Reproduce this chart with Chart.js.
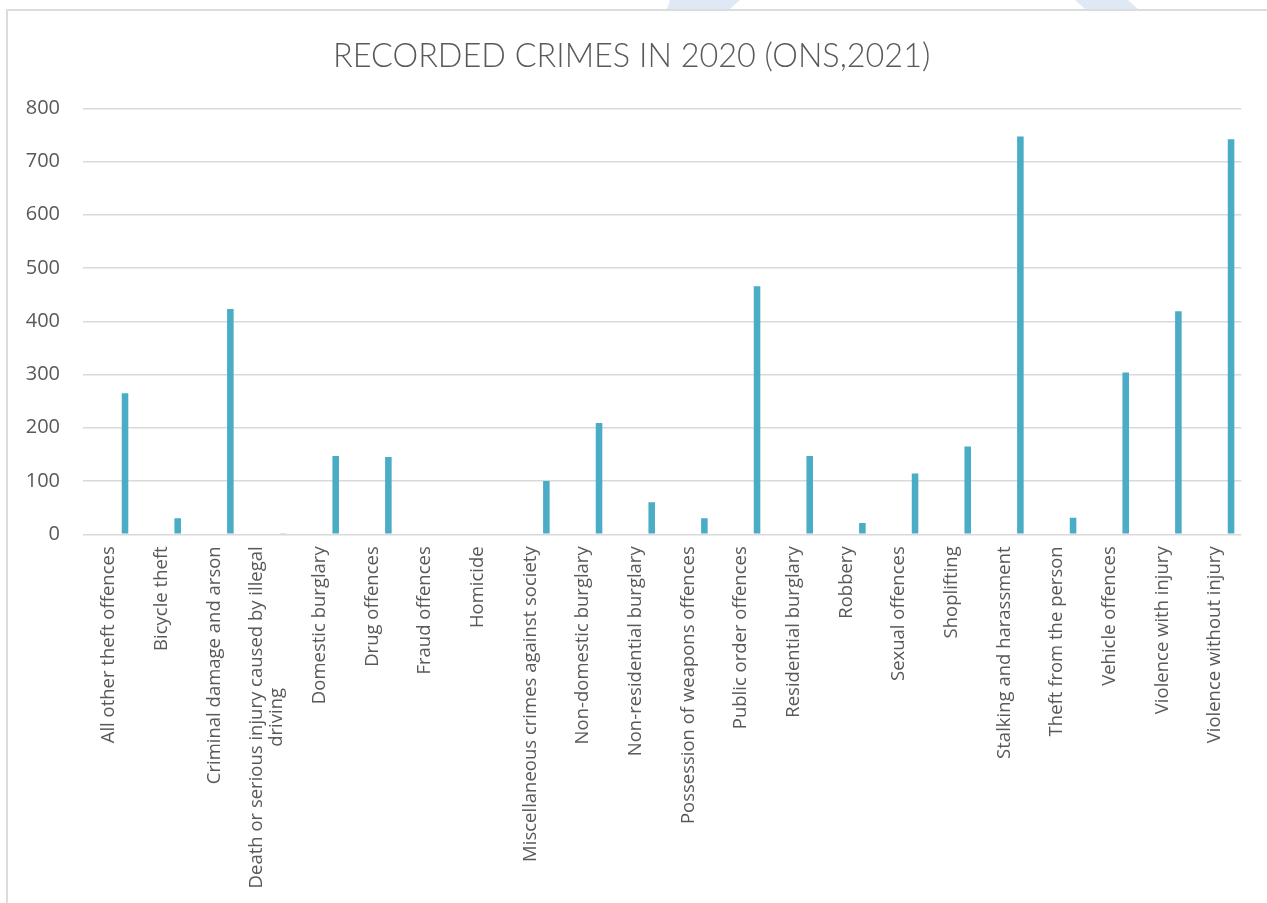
<!DOCTYPE html>
<html>
<head>
<meta charset="utf-8">
<title>Recorded crimes in 2020</title>
<script src="https://cdn.jsdelivr.net/npm/chart.js@4.4.1/dist/chart.umd.min.js"></script>
<style>
  html, body { margin: 0; padding: 0; background: #fff; }
  body { width: 1267px; height: 903px; position: relative; overflow: hidden; }
  .stripe { position: absolute; top: 0; height: 9px; background: #dfe9f6; }
  #stripe-a { left: 667px; width: 73px; clip-path: polygon(3px 0, 73px 0, 63px 9px, 0 9px); }
  #stripe-b { left: 1075px; width: 63px; clip-path: polygon(0 0, 53px 0, 63px 9px, 10px 9px); }
  .frame {
    position: absolute; left: 6px; top: 9px; right: -4px; bottom: -4px;
    border-left: 2px solid #dcdcdc; border-top: 2px solid #dcdcdc;
  }
  #chart { position: absolute; left: 0; top: 0; }
</style>
</head>
<body>
<div class="stripe" id="stripe-a"></div>
<div class="stripe" id="stripe-b"></div>
<div class="frame"></div>
<canvas id="chart" width="1267" height="903"></canvas>

<script>
// ======= Data =======
const categories = [
  "All other theft offences",
  "Bicycle theft",
  "Criminal damage and arson",
  ["Death or serious injury caused by illegal", "driving"],
  "Domestic burglary",
  "Drug offences",
  "Fraud offences",
  "Homicide",
  "Miscellaneous crimes against society",
  "Non-domestic burglary",
  "Non-residential burglary",
  "Possession of weapons offences",
  "Public order offences",
  "Residential burglary",
  "Robbery",
  "Sexual offences",
  "Shoplifting",
  "Stalking and harassment",
  "Theft from the person",
  "Vehicle offences",
  "Violence with injury",
  "Violence without injury"
];
const recorded = [265, 30, 423, 1, 147, 145, 0, 0, 100, 209, 60, 30, 466, 147, 21, 114, 165, 747, 31, 304, 419, 742];

const yMin = 0;
const yMax = 800;
const yStep = 100;

const TITLE = "RECORDED CRIMES IN 2020 (ONS,2021)";
const TEXT_COLOR = "#595959";
const BAR_COLOR = "#4bacc6";
const GRID_COLOR = "#d9d9d9";

// ======= Category labels =======
// rotated labels, each line centred on the longest one, hanging under the axis
const LABEL_FONT = '18.5px "Open Sans"';
const LABEL_LINE = 20;
const xLabels = {
  id: "xLabels",
  afterDraw(chart) {
    const ctx = chart.ctx;
    const scale = chart.scales.x;
    const top = scale.top + 12;
    ctx.save();
    ctx.font = LABEL_FONT;
    ctx.fillStyle = TEXT_COLOR;
    ctx.textAlign = "center";
    ctx.textBaseline = "middle";
    categories.forEach((label, i) => {
      const lines = [].concat(label);
      const longest = Math.max(...lines.map((l) => ctx.measureText(l).width));
      const x = scale.getPixelForTick(i);
      lines.forEach((line, j) => {
        ctx.save();
        ctx.translate(x + (j - (lines.length - 1) / 2) * LABEL_LINE, top + longest / 2);
        ctx.rotate(-Math.PI / 2);
        ctx.fillText(line, 0, 0);
        ctx.restore();
      });
    });
    ctx.restore();
  }
};

// ======= Chart =======
// two empty series ahead of the counts keep each bar right of its tick
const emptySeries = { label: "", data: [], backgroundColor: BAR_COLOR };

new Chart(document.getElementById("chart"), {
  type: "bar",
  data: {
    labels: categories,
    datasets: [
      emptySeries,
      { ...emptySeries },
      { label: "Recorded crimes", data: recorded, backgroundColor: BAR_COLOR }
    ]
  },
  options: {
    responsive: false,
    animation: false,
    layout: { padding: { top: 24, left: 22, right: 25.6, bottom: 0 } },
    datasets: { bar: { categoryPercentage: 0.911, barPercentage: 0.41 } },
    plugins: {
      legend: { display: false },
      tooltip: { enabled: false },
      title: {
        display: true,
        text: TITLE,
        color: TEXT_COLOR,
        font: { family: 'Lato, "Open Sans"', size: 32.4, weight: 300 },
        padding: { top: 13, bottom: 32.4 }
      }
    },
    scales: {
      x: {
        grid: { display: false },
        border: { display: false },
        ticks: { display: false },
        afterFit: (s) => { s.height = 368.7; }
      },
      y: {
        min: yMin,
        max: yMax,
        afterFit: (s) => { s.width = 60.7; },
        grid: { color: GRID_COLOR, lineWidth: 1.5, drawTicks: false },
        border: { display: false },
        ticks: {
          stepSize: yStep,
          padding: 22.7,
          color: TEXT_COLOR,
          font: { family: '"Open Sans"', size: 20 }
        }
      }
    }
  },
  plugins: [xLabels]
});
</script>
</body>
</html>
